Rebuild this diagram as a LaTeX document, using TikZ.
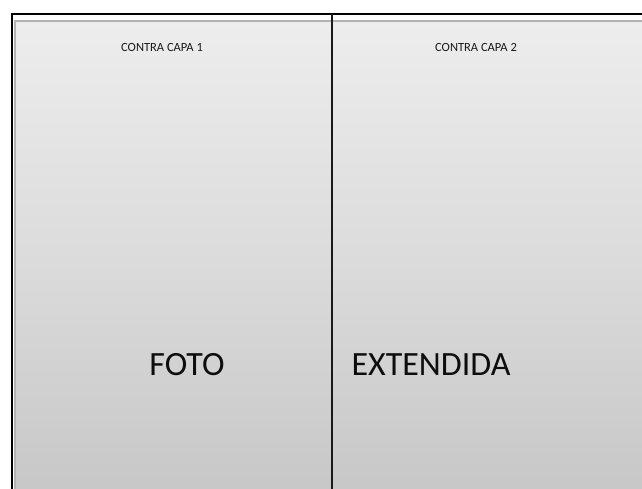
\documentclass[tikz,border=0pt]{standalone}
\usepackage{fontspec}
\setmainfont{Carlito}
\usetikzlibrary{calc}
\tikzset{
  small label/.style={font=\fontsize{12.5}{14}\selectfont, text=black!90, inner sep=0pt},
  big label/.style={font=\fontsize{34}{38}\selectfont, text=black!95, inner sep=0pt},
}

\begin{document}
\begin{tikzpicture}[x=1pt,y=-1pt]
        \useasboundingbox (0,0) rectangle (642,488);

        % page background
        \shade[top color=black!7, bottom color=black!22, middle color=black!14] (15,21) rectangle (650,495);

        % frame
        \draw[gray!60, line width=1.5pt] (15,495) -- (15,21) -- (650,21);
        \draw[black, line width=2.5pt] (12,495) -- (12,14) -- (650,14);

        % fold
        \coordinate (foldtop) at (332,14);
        \coordinate (foldbot) at (332,495);
        \draw[black!90, line width=2pt] (foldtop) -- (foldbot);

        % labels
        \node[small label] (capa1) at (162,47) {CONTRA CAPA 1};
        \node[small label] (capa2) at (476,47) {CONTRA CAPA 2};
        \node[big label] (foto) at (187,365) {FOTO};
        \node[big label] (ext) at (431,365) {EXTENDIDA};
\end{tikzpicture}
\end{document}
